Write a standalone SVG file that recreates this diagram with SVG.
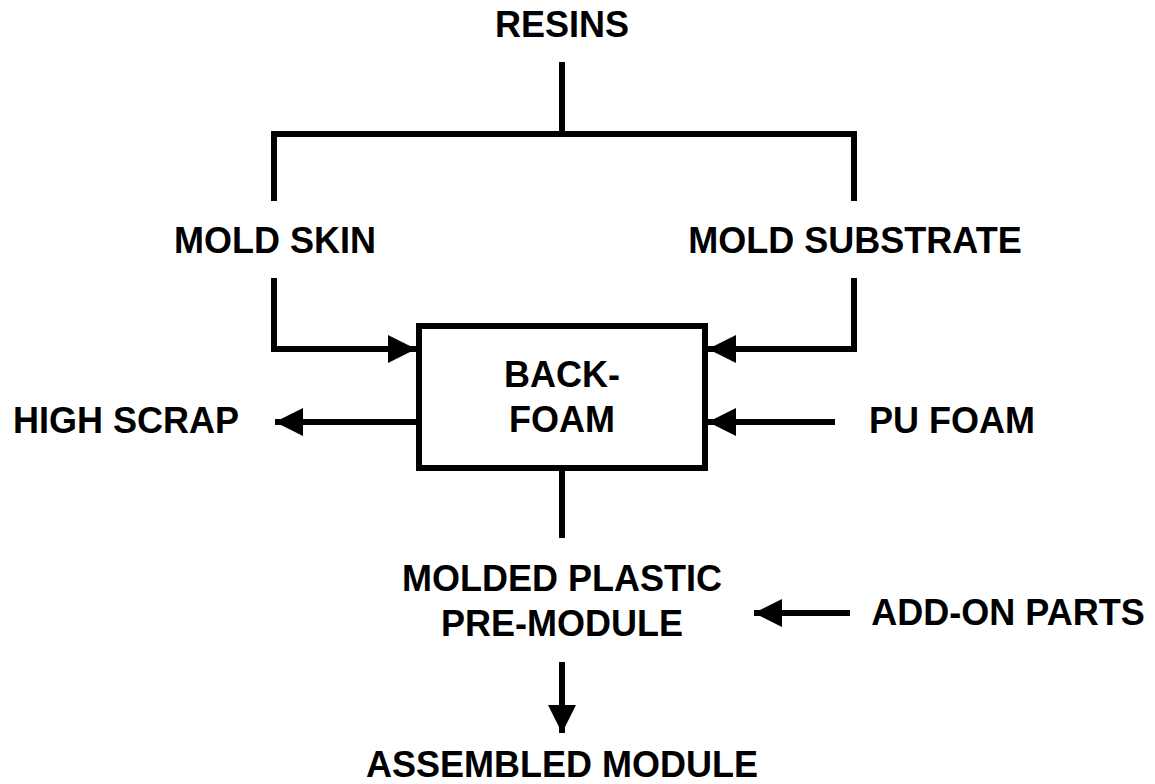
<svg xmlns="http://www.w3.org/2000/svg" width="1155" height="784" viewBox="0 0 1155 784">
<style>
.t{font-family:"Liberation Sans",Arial,sans-serif;font-weight:bold;font-size:36px;fill:#000;text-anchor:middle}
.l{fill:none;stroke:#000;stroke-width:6;stroke-linecap:butt;stroke-linejoin:miter}
</style>
<defs>
<marker id="ah" viewBox="0 0 28 28" refX="28" refY="14" markerWidth="28" markerHeight="28" markerUnits="userSpaceOnUse" orient="auto">
<path d="M0,0 L28,14 L0,28 Z" fill="#000"/>
</marker>
</defs>
<rect width="1155" height="784" fill="#fff"/>
<g id="connectors">
<path class="l" d="M562,62 V134"/>
<path class="l" d="M272,134 H854"/>
<path class="l" d="M274,131 V201"/>
<path class="l" d="M854,131 V201"/>
<path class="l" d="M274,278 V349 H416" marker-end="url(#ah)"/>
<path class="l" d="M854,278 V349 H708" marker-end="url(#ah)"/>
<path class="l" d="M419,422 H275" marker-end="url(#ah)"/>
<path class="l" d="M835,422 H708" marker-end="url(#ah)"/>
<path class="l" d="M562,468 V538"/>
<path class="l" d="M850,613 H754" marker-end="url(#ah)"/>
<path class="l" d="M562,662 V733" marker-end="url(#ah)"/>
</g>
<g id="resins"><text class="t" x="562" y="37">RESINS</text></g>
<g id="mold-skin"><text class="t" x="275" y="253">MOLD SKIN</text></g>
<g id="mold-substrate"><text class="t" x="855" y="253">MOLD SUBSTRATE</text></g>
<g id="back-foam">
<rect x="419" y="326" width="286" height="142" fill="#fff" stroke="#000" stroke-width="6"/>
<text class="t" x="562" y="387">BACK-</text>
<text class="t" x="562" y="432">FOAM</text>
</g>
<g id="high-scrap"><text class="t" x="126" y="433">HIGH SCRAP</text></g>
<g id="pu-foam"><text class="t" x="952" y="433">PU FOAM</text></g>
<g id="pre-module">
<text class="t" x="562" y="591">MOLDED PLASTIC</text>
<text class="t" x="562" y="636">PRE-MODULE</text>
</g>
<g id="add-on-parts"><text class="t" x="1008" y="625">ADD-ON PARTS</text></g>
<g id="assembled-module"><text class="t" x="562" y="777">ASSEMBLED MODULE</text></g>
</svg>
